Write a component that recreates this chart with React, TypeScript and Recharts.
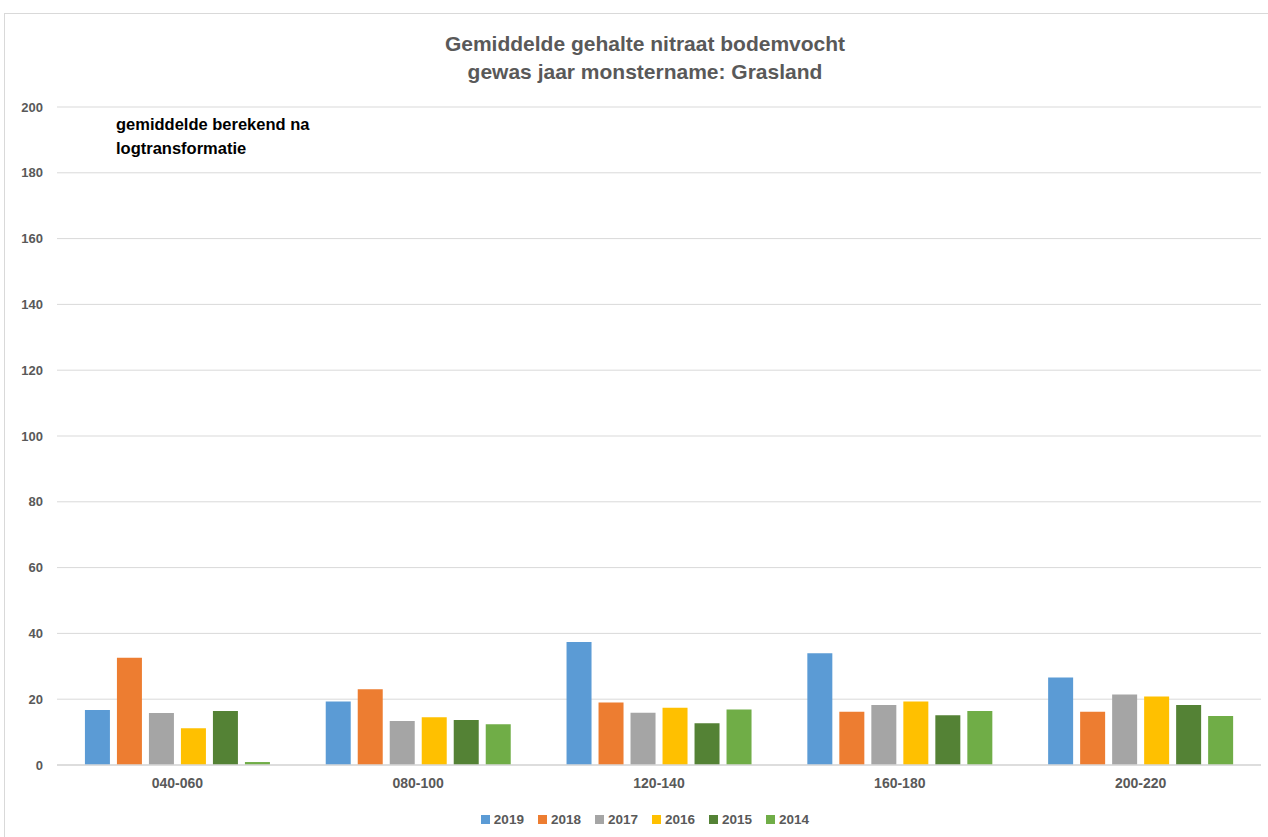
import { Bar, BarChart, CartesianGrid, XAxis, YAxis } from "recharts";

const depths = ["040-060", "080-100", "120-140", "160-180", "200-220"];

const years = ["2019", "2018", "2017", "2016", "2015", "2014"];

const values2019 = [16.7, 19.3, 37.4, 34.0, 26.6];
const values2018 = [32.6, 23.0, 19.0, 16.2, 16.2];
const values2017 = [15.8, 13.4, 15.9, 18.2, 21.4];
const values2016 = [11.2, 14.5, 17.4, 19.3, 20.8];
const values2015 = [16.4, 13.7, 12.7, 15.1, 18.2];
const values2014 = [0.9, 12.4, 16.9, 16.4, 14.9];

const yTicks = [0, 20, 40, 60, 80, 100, 120, 140, 160, 180, 200];

const seriesValues = [values2019, values2018, values2017, values2016, values2015, values2014];
const colors = ["#5b9bd5", "#ed7d31", "#a5a5a5", "#ffc000", "#548235", "#70ad47"];

const chartData = depths.map((depth, i) => {
  const row: Record<string, string | number> = { depth };
  years.forEach((year, s) => {
    row[year] = seriesValues[s][i];
  });
  return row;
});

const font = "'Liberation Sans', Arial, sans-serif";
const yTick = { fill: "#595959", fontSize: 13, fontWeight: 700, fontFamily: font };
const xTick = { fill: "#595959", fontSize: 14, fontWeight: 700, fontFamily: font };

export default function App() {
  return (
    <div
      style={{
        position: "absolute",
        left: 0,
        top: 0,
        width: 1268,
        height: 837,
        background: "#fff",
        overflow: "hidden",
        fontFamily: font,
      }}
    >
      {/* chart frame */}
      <div
        style={{
          position: "absolute",
          left: 4,
          top: 13,
          width: 1300,
          height: 900,
          borderLeft: "1px solid #d9d9d9",
          borderTop: "1px solid #d9d9d9",
        }}
      />
      <div
        style={{
          position: "absolute",
          left: 0,
          width: 1290,
          top: 30,
          textAlign: "center",
          color: "#595959",
          fontSize: 21,
          fontWeight: 700,
          lineHeight: "28px",
        }}
      >
        <div>Gemiddelde gehalte nitraat bodemvocht</div>
        <div>gewas jaar monstername: Grasland</div>
      </div>
      <div
        style={{
          position: "absolute",
          left: 116,
          top: 112,
          color: "#000",
          fontSize: 16.5,
          fontWeight: 700,
          lineHeight: "24px",
        }}
      >
        <div>gemiddelde berekend na</div>
        <div>logtransformatie</div>
      </div>
      <div style={{ position: "absolute", left: 0, top: 0 }}>
        <BarChart
          width={1268}
          height={837}
          data={chartData}
          margin={{ top: 107, right: 7, bottom: 42, left: 0 }}
          barCategoryGap="11.6%"
          barGap={7}
        >
          <CartesianGrid vertical={false} stroke="#d9d9d9" strokeWidth={1} />
          <XAxis
            dataKey="depth"
            height={30}
            tickLine={false}
            tickSize={0}
            tickMargin={13}
            axisLine={{ stroke: "#d9d9d9", strokeWidth: 1.5 }}
            tick={xTick}
          />
          <YAxis
            width={57}
            domain={[0, 200]}
            ticks={yTicks}
            interval={0}
            tickLine={false}
            axisLine={false}
            tickSize={0}
            tickMargin={14}
            tick={yTick}
          />
          {years.map((year, s) => (
            <Bar key={year} dataKey={year} fill={colors[s]} isAnimationActive={false} />
          ))}
        </BarChart>
      </div>
      <div
        style={{
          position: "absolute",
          left: 0,
          width: 1290,
          top: 812,
          display: "flex",
          justifyContent: "center",
          gap: 14,
          color: "#595959",
          fontSize: 13.5,
          fontWeight: 700,
        }}
      >
        {years.map((year, s) => (
          <div key={year} style={{ display: "flex", alignItems: "center", gap: 4 }}>
            <span style={{ width: 9, height: 9, background: colors[s], display: "inline-block" }} />
            <span>{year}</span>
          </div>
        ))}
      </div>
    </div>
  );
}
